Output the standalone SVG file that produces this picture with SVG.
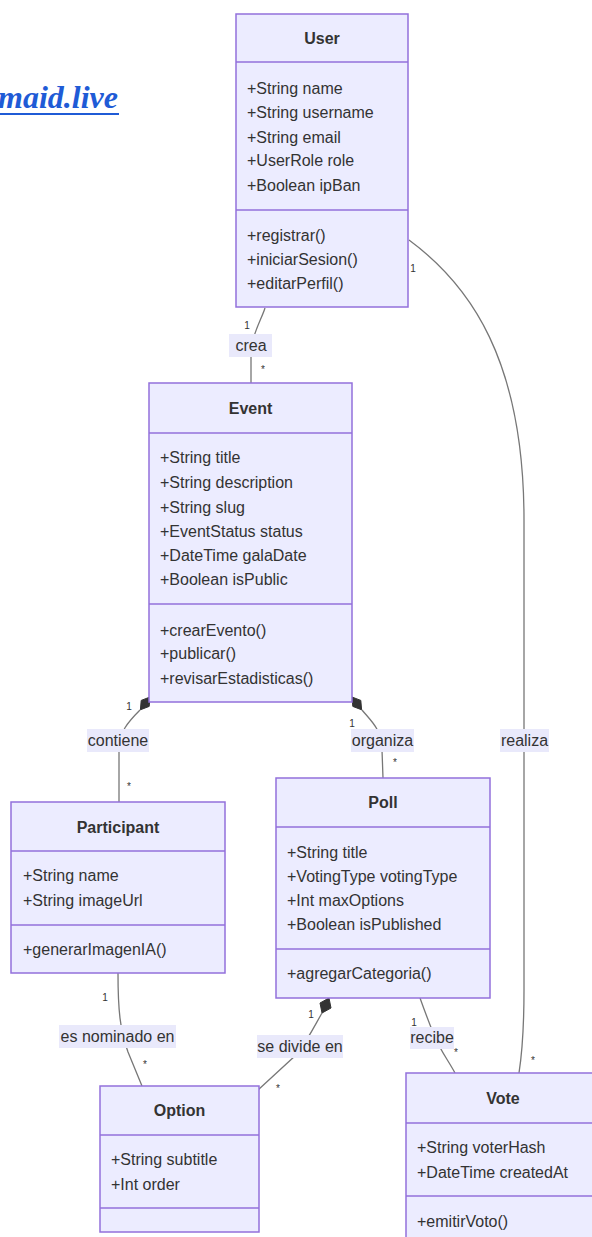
<svg xmlns="http://www.w3.org/2000/svg" width="592" height="1237" viewBox="0 0 592 1237">
<style>
.box{fill:#ECECFF;stroke:#9370DB;stroke-width:1.5}
.div{stroke:#9370DB;stroke-width:1.5}
.t{font-family:"Liberation Sans",Arial,sans-serif;font-size:16px;fill:#333}
.h{font-family:"Liberation Sans",Arial,sans-serif;font-size:16px;font-weight:bold;fill:#333;text-anchor:middle}
.edge{fill:none;stroke:#777;stroke-width:1.3}
.lblbg{fill:#E9E9FB}
.lbl{font-family:"Liberation Sans",Arial,sans-serif;font-size:16px;fill:#333;text-anchor:middle}
.card{font-family:"Liberation Sans",Arial,sans-serif;font-size:10px;fill:#333;text-anchor:middle}
.dia{fill:#333;stroke:#333;stroke-width:1}
.link{font-family:"Liberation Serif","Times New Roman",serif;font-size:32px;font-weight:bold;font-style:italic;fill:#1F5BD6}
</style>
<rect width="592" height="1237" fill="#FFFFFF"/>
<g id="link-text">
<text class="link" x="-2" y="108">maid.live</text>
<line x1="0" y1="114" x2="119" y2="114" stroke="#1F5BD6" stroke-width="2"/>
</g>
<g id="connectors">
<path class="edge" d="M265,308 C262,318 252,335 251,350 L251,383"/>
<path class="edge" d="M409,240 C470,285 524,360 524,520 L524,990 C524,1040 521,1060 519,1073"/>
<path class="edge" d="M140,710 C128,722 119,732 119,750 L119,802"/>
<path class="edge" d="M362,710 C372,722 382,730 382,750 L383,778"/>
<path class="edge" d="M118,973 C118,1010 120,1030 128,1052 L142,1086"/>
<path class="edge" d="M322,1013 C315,1025 308,1040 296,1055 L258,1090"/>
<path class="edge" d="M420,998 C425,1012 430,1025 434,1035 C440,1050 448,1060 455,1073"/>
<polygon class="dia" points="150,697 149.2,706.4 140.4,709.8 141.2,700.4"/>
<polygon class="dia" points="352,697 360.8,700.4 361.6,709.8 352.8,706.4"/>
<polygon class="dia" points="329,998 331,1008 322,1013 320,1003"/>
<rect class="lblbg" x="229" y="334" width="43" height="23"/>
<text class="lbl" x="251" y="351">crea</text>
<rect class="lblbg" x="500" y="729" width="49" height="23"/>
<text class="lbl" x="524.5" y="746">realiza</text>
<rect class="lblbg" x="87" y="729" width="62" height="23"/>
<text class="lbl" x="118" y="746">contiene</text>
<rect class="lblbg" x="351" y="729" width="63" height="23"/>
<text class="lbl" x="382.5" y="746">organiza</text>
<rect class="lblbg" x="59" y="1025" width="117" height="23"/>
<text class="lbl" x="117.5" y="1042">es nominado en</text>
<rect class="lblbg" x="257" y="1035" width="86" height="23"/>
<text class="lbl" x="300" y="1052">se divide en</text>
<rect class="lblbg" x="410" y="1027" width="44" height="22"/>
<text class="lbl" x="432" y="1043">recibe</text>
<text class="card" x="247" y="329">1</text>
<text class="card" x="263" y="373">*</text>
<text class="card" x="413" y="272">1</text>
<text class="card" x="533" y="1064">*</text>
<text class="card" x="129" y="710">1</text>
<text class="card" x="129" y="790">*</text>
<text class="card" x="352" y="727">1</text>
<text class="card" x="395" y="766">*</text>
<text class="card" x="105" y="1001">1</text>
<text class="card" x="145" y="1068">*</text>
<text class="card" x="311" y="1018">1</text>
<text class="card" x="278" y="1092">*</text>
<text class="card" x="414" y="1026">1</text>
<text class="card" x="456" y="1056">*</text>
</g>
<g id="User">
<rect class="box" x="236" y="14" width="172" height="293"/>
<line class="div" x1="236" y1="62" x2="408" y2="62"/>
<line class="div" x1="236" y1="210" x2="408" y2="210"/>
<text class="h" x="322" y="44">User</text>
<text class="t" x="247" y="94">+String name</text>
<text class="t" x="247" y="118">+String username</text>
<text class="t" x="247" y="143">+String email</text>
<text class="t" x="247" y="166">+UserRole role</text>
<text class="t" x="247" y="191">+Boolean ipBan</text>
<text class="t" x="247" y="241">+registrar()</text>
<text class="t" x="247" y="265">+iniciarSesion()</text>
<text class="t" x="247" y="289">+editarPerfil()</text>
</g>
<g id="Event">
<rect class="box" x="149" y="383" width="203" height="319"/>
<line class="div" x1="149" y1="433" x2="352" y2="433"/>
<line class="div" x1="149" y1="604" x2="352" y2="604"/>
<text class="h" x="250.5" y="414">Event</text>
<text class="t" x="160" y="463">+String title</text>
<text class="t" x="160" y="488">+String description</text>
<text class="t" x="160" y="513">+String slug</text>
<text class="t" x="160" y="537">+EventStatus status</text>
<text class="t" x="160" y="561">+DateTime galaDate</text>
<text class="t" x="160" y="585">+Boolean isPublic</text>
<text class="t" x="160" y="636">+crearEvento()</text>
<text class="t" x="160" y="659">+publicar()</text>
<text class="t" x="160" y="684">+revisarEstadisticas()</text>
</g>
<g id="Participant">
<rect class="box" x="11" y="802" width="214" height="171"/>
<line class="div" x1="11" y1="851" x2="225" y2="851"/>
<line class="div" x1="11" y1="925" x2="225" y2="925"/>
<text class="h" x="118" y="833">Participant</text>
<text class="t" x="23" y="881">+String name</text>
<text class="t" x="23" y="906">+String imageUrl</text>
<text class="t" x="23" y="955">+generarImagenIA()</text>
</g>
<g id="Poll">
<rect class="box" x="276" y="778" width="214" height="220"/>
<line class="div" x1="276" y1="827" x2="490" y2="827"/>
<line class="div" x1="276" y1="949" x2="490" y2="949"/>
<text class="h" x="383" y="808">Poll</text>
<text class="t" x="287" y="858">+String title</text>
<text class="t" x="287" y="882">+VotingType votingType</text>
<text class="t" x="287" y="906">+Int maxOptions</text>
<text class="t" x="287" y="930">+Boolean isPublished</text>
<text class="t" x="287" y="979">+agregarCategoria()</text>
</g>
<g id="Option">
<rect class="box" x="100" y="1086" width="159" height="146"/>
<line class="div" x1="100" y1="1135" x2="259" y2="1135"/>
<line class="div" x1="100" y1="1208" x2="259" y2="1208"/>
<text class="h" x="179.5" y="1116">Option</text>
<text class="t" x="111" y="1165">+String subtitle</text>
<text class="t" x="111" y="1190">+Int order</text>
</g>
<g id="Vote">
<rect class="box" x="406" y="1073" width="196" height="200"/>
<line class="div" x1="406" y1="1123" x2="602" y2="1123"/>
<line class="div" x1="406" y1="1196" x2="602" y2="1196"/>
<text class="h" x="503" y="1104">Vote</text>
<text class="t" x="417" y="1153">+String voterHash</text>
<text class="t" x="417" y="1178">+DateTime createdAt</text>
<text class="t" x="417" y="1227">+emitirVoto()</text>
</g>
</svg>
